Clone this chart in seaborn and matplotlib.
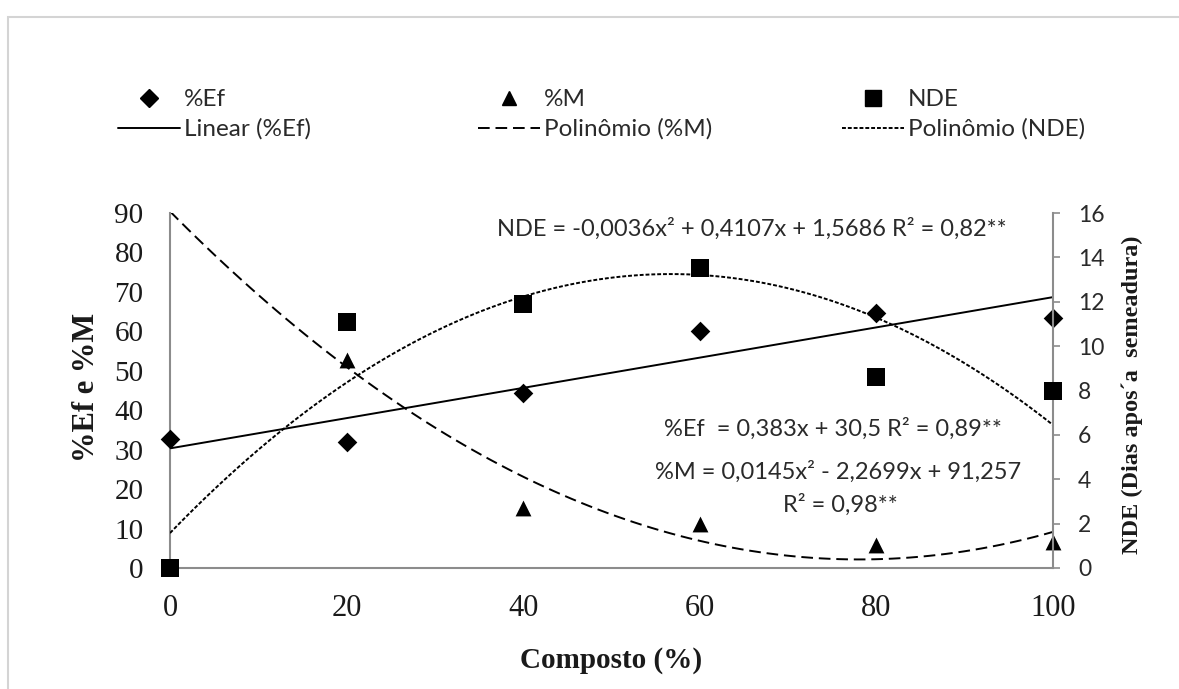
import numpy as np
import matplotlib
matplotlib.use("Agg")
import matplotlib.pyplot as plt
import seaborn as sns
import pandas as pd
from matplotlib.lines import Line2D
from matplotlib.patches import Rectangle

#   data
composto = [0, 20, 40, 60, 80, 100]
ef = [32.6, 31.9, 44.3, 60.1, 64.6, 63.5]        # %Ef
mort = [91.3, 52.7, 15.3, 11.2, 5.8, 6.5]        # %M (first point off the top)
nde = [0.0, 11.1, 11.9, 13.5, 8.6, 8.0]          # NDE, right axis

left_ticks = [0, 10, 20, 30, 40, 50, 60, 70, 80, 90]
right_ticks = [0, 2, 4, 6, 8, 10, 12, 14, 16]
x_ticks = [0, 20, 40, 60, 80, 100]

df = pd.DataFrame({"x": composto, "ef": ef, "m": mort, "nde": nde})

sns.set_theme(style="white")
plt.rcParams["font.family"] = ["Lato", "DejaVu Sans"]
SERIF = ["Liberation Serif", "DejaVu Serif"]
W, H = 1179, 689

fig = plt.figure(figsize=(W / 100, H / 100), dpi=100)
ax = fig.add_axes([170 / W, (H - 568) / H, 883 / W, 355 / H])
ax2 = ax.twinx()

###     fitted trend lines
sns.regplot(data=df, x="x", y="ef", order=1, ci=None, scatter=False, ax=ax,
            line_kws=dict(color="black", lw=1.4, ls="-"))
sns.regplot(data=df, x="x", y="m", order=2, ci=None, scatter=False, ax=ax,
            line_kws=dict(color="black", lw=1.4, ls=(0, (6, 3))))
sns.regplot(data=df, x="x", y="nde", order=2, ci=None, scatter=False, ax=ax2,
            line_kws=dict(color="black", lw=1.4, ls=(0, (2, 1))))

###     markers
sns.scatterplot(data=df, x="x", y="ef", marker="D", s=100, color="black",
                edgecolor="black", linewidth=0, ax=ax, zorder=5, clip_on=False)
shown = df[df["m"] <= 90]
sns.scatterplot(data=shown, x="x", y="m", marker="^", s=130, color="black",
                edgecolor="black", linewidth=0, ax=ax, zorder=5, clip_on=False)
sns.scatterplot(data=df, x="x", y="nde", marker="s", s=180, color="black",
                edgecolor="black", linewidth=0, ax=ax2, zorder=5, clip_on=False)

###     axes style
for a in (ax, ax2):
    a.set_xlim(0, 100)
    for sp in a.spines.values():
        sp.set_visible(False)
ax.set_ylim(0, 90)
ax2.set_ylim(0, 16)
ax.spines["left"].set_visible(True)
ax.spines["bottom"].set_visible(True)
ax2.spines["right"].set_visible(True)
for sp in (ax.spines["left"], ax.spines["bottom"], ax2.spines["right"]):
    sp.set_color("#8c8c8c")
    sp.set_linewidth(1.5)

ax.set_xticks(x_ticks)
ax.set_yticks(left_ticks)
ax2.set_yticks(right_ticks)
ax.tick_params(axis="x", length=0, pad=19, labelsize=22)
ax.tick_params(axis="y", length=0, pad=19, labelsize=21)
ax2.tick_params(axis="y", length=5, width=1.2, color="#8c8c8c", direction="out",
                pad=13, labelsize=16.5, labelcolor="#2a2a2a")
for lab in ax.get_xticklabels() + ax.get_yticklabels():
    lab.set_family(SERIF)
    lab.set_color("#1a1a1a")

ax.set_xlabel("Composto (%)", family=SERIF, fontweight="bold", fontsize=21,
              va="center", color="#1a1a1a")
ax.xaxis.set_label_coords(0.5, -(660 - 568) / 355)
ax.set_ylabel("%Ef e %M", family=SERIF, fontweight="bold", fontsize=22,
              va="center", color="#1a1a1a")
ax.yaxis.set_label_coords((87 - 170) / 883, (568 - 387) / 355)
ax2.set_ylabel("NDE (Dias apos´a  semeadura)", family=SERIF, fontweight="bold",
               fontsize=17.5, va="center", rotation=90, color="#1a1a1a")
ax2.yaxis.set_label_coords((1132 - 170) / 883, (568 - 395) / 355)

###     equations
def ftext(x, y, s):
    fig.text(x / W, 1 - y / H, s, ha="center", va="center", fontsize=17,
             color="#2a2a2a")

ftext(752, 229, "NDE = -0,0036x² + 0,4107x + 1,5686 R² = 0,82**")
ftext(833, 429, "%Ef  = 0,383x + 30,5 R² = 0,89**")
ftext(838, 472, "%M = 0,0145x² - 2,2699x + 91,257")
ftext(840, 505, "R² = 0,98**")

###     legend, three columns
groups = [
    (118, [Line2D([], [], marker="D", ls="", color="black", ms=9), Line2D([], [], color="black", lw=1.4)],
     ["%Ef", "Linear (%Ef)"]),
    (478, [Line2D([], [], marker="^", ls="", color="black", ms=10),
           Line2D([], [], color="black", lw=1.4, ls=(0, (6, 3)))],
     ["%M", "Polinômio (%M)"]),
    (842, [Line2D([], [], marker="s", ls="", color="black", ms=11),
           Line2D([], [], color="black", lw=1.4, ls=(0, (2, 1)))],
     ["NDE", "Polinômio (NDE)"]),
]
for xp, hs, ls in groups:
    fig.legend(hs, ls, loc="upper left", bbox_to_anchor=(xp / W, 1 - 89 / H),
               frameon=False, fontsize=17.5, handlelength=2.55, handletextpad=0.15,
               labelspacing=0.35, borderpad=0, borderaxespad=0,
               labelcolor="#2a2a2a")

###     light frame round the chart
fig.add_artist(Rectangle((8 / W, -0.1), 1.2, 1 - 17 / H + 0.1, fill=False,
                         edgecolor="#d4d4d4", lw=1.5, transform=fig.transFigure))

fig.savefig("out.png", dpi=100, facecolor="white")
